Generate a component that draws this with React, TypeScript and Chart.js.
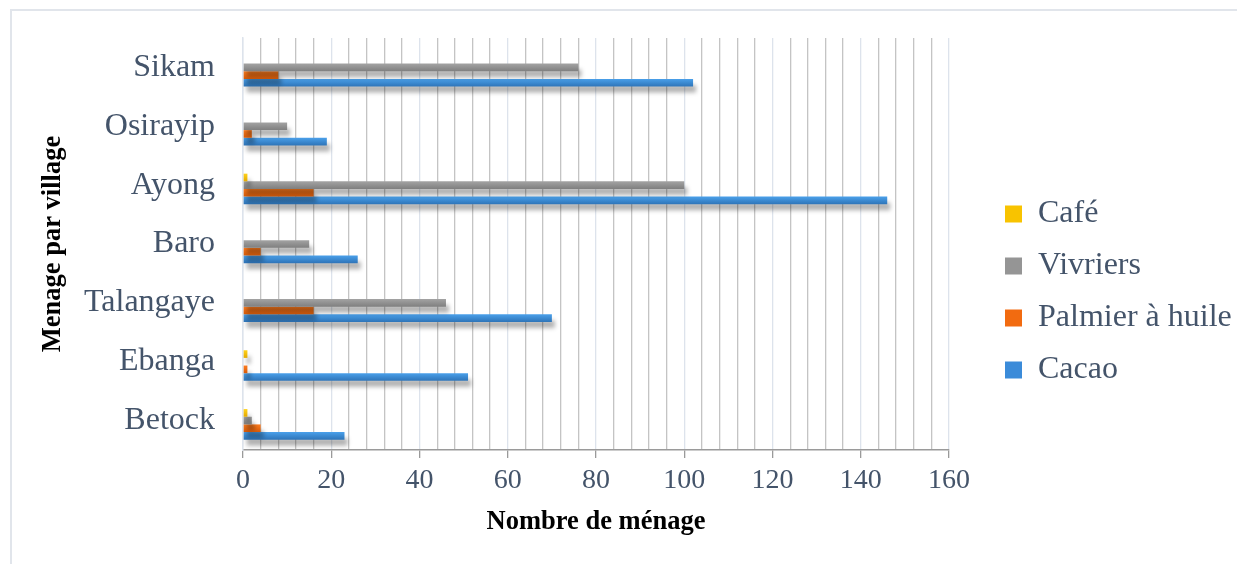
import React, { useEffect, useRef } from 'react';
import { Chart, registerables } from 'chart.js';

Chart.register(...registerables);

const villages = ['Sikam', 'Osirayip', 'Ayong', 'Baro', 'Talangaye', 'Ebanga', 'Betock'];
const cafe = [0, 0, 1, 0, 0, 1, 1];
const vivriers = [76, 10, 100, 15, 46, 0, 2];
const palmier = [8, 2, 16, 4, 16, 1, 4];
const cacao = [102, 19, 146, 26, 70, 51, 23];
const seriesNames = ['Café', 'Vivriers', 'Palmier à huile', 'Cacao'];
const seriesTop = ['#ffd21a', '#a3a3a3', '#ff7d1f', '#4aa0ea'];
const seriesBottom = ['#e3a900', '#7f7f7f', '#d65a08', '#2e74b8'];
const seriesColors = ['#f8c300', '#959595', '#f26b10', '#3b8bd9'];
const xMin = 0;
const xMax = 160;
const xMajorStep = 20;
const xMinorStep = 4;
const xTitle = 'Nombre de ménage';
const yTitle = 'Menage par village';

const FONT = "'Liberation Serif', 'Times New Roman', serif";
const TEXT = '#44546a';
const W = 1237;
const H = 556;
const CAT_PCT = 0.65;
const SLOTS = 5; // an empty leading slot, like Excel's group offset

export default function App() {
  const ref = useRef<HTMLCanvasElement | null>(null);

  useEffect(() => {
    if (!ref.current) return;
    const seriesData = [cafe, vivriers, palmier, cacao];

    const gradFor = (c: any, s: number) => {
      const chart = c.chart;
      const y = chart.scales && chart.scales.y;
      if (!y || c.dataIndex === undefined || !chart.chartArea) return seriesColors[s];
      const catH = y.height / villages.length;
      const barH = (catH * CAT_PCT) / SLOTS;
      const center = y.getPixelForValue(c.dataIndex);
      const top = center - (catH * CAT_PCT) / 2 + (s + 1) * barH;
      const g = chart.ctx.createLinearGradient(0, top, 0, top + barH);
      g.addColorStop(0, seriesTop[s]);
      g.addColorStop(1, seriesBottom[s]);
      return g;
    };

    const shadowPlugin = {
      id: 'barShadow',
      beforeDatasetsDraw(chart: any) {
        const ctx = chart.ctx;
        ctx.save();
        ctx.shadowColor = 'rgba(0,0,0,0.3)';
        ctx.shadowBlur = 4;
        ctx.shadowOffsetX = 3;
        ctx.shadowOffsetY = 6;
      },
      afterDatasetsDraw(chart: any) {
        chart.ctx.restore();
      },
    };
    const legendPlace = {
      id: 'legendPlace',
      beforeLayout(chart: any) {
        const lg: any = chart.legend;
        if (lg && !lg.__patched) {
          const orig = lg.fit.bind(lg);
          lg.fit = function () {
            orig();
            this.width = 296;
          };
          lg.__patched = true;
        }
      },
      afterLayout(chart: any) {
        const lg: any = chart.legend;
        if (!lg) return;
        lg.left += 36;
        lg.right += 36;
        lg.bottom -= 18;
      },
    };

    const datasets: any[] = [
      {
        label: '',
        data: villages.map(() => null),
        backgroundColor: 'rgba(0,0,0,0)',
        borderWidth: 0,
        categoryPercentage: CAT_PCT,
        barPercentage: 1,
      },
      ...seriesNames.map((name, i) => ({
        label: name,
        data: seriesData[i],
        backgroundColor: (c: any) => gradFor(c, i),
        borderWidth: 0,
        categoryPercentage: CAT_PCT,
        barPercentage: 1,
      })),
    ];

    const chart = new Chart(ref.current, {
      type: 'bar',
      data: { labels: villages, datasets },
      options: {
        indexAxis: 'y',
        responsive: false,
        animation: false,
        layout: { padding: { top: 30, left: 0, right: 0, bottom: 0 } },
        plugins: {
          tooltip: { enabled: false },
          legend: {
            position: 'right',
            labels: {
              boxWidth: 17,
              boxHeight: 17,
              padding: 20,
              color: TEXT,
              font: { family: FONT, size: 32 },
              filter: (item: any) => item.text !== '',
              generateLabels: (chart: any) =>
                chart.data.datasets.map((ds: any, i: number) => ({
                  text: ds.label,
                  fillStyle: i === 0 ? 'rgba(0,0,0,0)' : (() => {
                    const g = chart.ctx.createLinearGradient(0, 0, 0, 1);
                    return seriesColors[i - 1];
                  })(),
                  strokeStyle: 'rgba(0,0,0,0)',
                  lineWidth: 0,
                  fontColor: TEXT,
                  hidden: false,
                  datasetIndex: i,
                })),
            },
          },
        },
        scales: {
          x: {
            min: xMin,
            max: xMax,
            ticks: {
              stepSize: xMinorStep,
              autoSkip: false,
              maxRotation: 0,
              minRotation: 0,
              padding: 6,
              color: TEXT,
              font: { family: FONT, size: 28 },
              callback: (v: any) => (Number(v) % xMajorStep === 0 ? String(v) : ''),
            },
            grid: {
              color: (c: any) => (c.tick && c.tick.value % xMajorStep === 0 ? '#dde3ec' : '#c4c4c4'),
              tickColor: (c: any) => (c.tick && c.tick.value % xMajorStep === 0 ? '#9a9a9a' : 'rgba(0,0,0,0)'),
              tickLength: 8,
              lineWidth: 1.3,
            },
            border: { color: '#9a9a9a', width: 1.5 },
            title: {
              display: true,
              text: xTitle,
              color: '#000',
              font: { family: FONT, size: 26.5, weight: 'bold' },
              padding: { top: 0, bottom: 26 },
            },
            afterFit: (s: any) => {
              s.height = 114;
              s.paddingLeft = 0;
              s.paddingRight = 0;
            },
          },
          y: {
            ticks: {
              color: TEXT,
              padding: 28,
              font: { family: FONT, size: 32 },
            },
            grid: { display: false, drawTicks: false },
            border: { color: '#dde3ec', width: 1.5 },
            title: {
              display: true,
              text: yTitle,
              color: '#000',
              font: { family: FONT, size: 26.5, weight: 'bold' },
              padding: { top: 29, bottom: 0 },
            },
            afterFit: (s: any) => {
              s.width = 235;
              s.paddingTop = 0;
              s.paddingBottom = 0;
            },
          },
        },
      },
      plugins: [shadowPlugin, legendPlace],
    } as any);
    return () => chart.destroy();
  }, []);

  return (
    <div style={{ position: 'relative', width: W, height: H, overflow: 'hidden' }}>
      <div
        style={{
          position: 'absolute',
          left: 2,
          top: 1,
          width: W + 50,
          height: H + 50,
          borderTop: '2px solid #e1e5eb',
          borderLeft: '2px solid #e1e5eb',
        }}
      />
      <canvas ref={ref} width={W} height={H} style={{ position: 'absolute', left: 0, top: 0 }} />
    </div>
  );
}
